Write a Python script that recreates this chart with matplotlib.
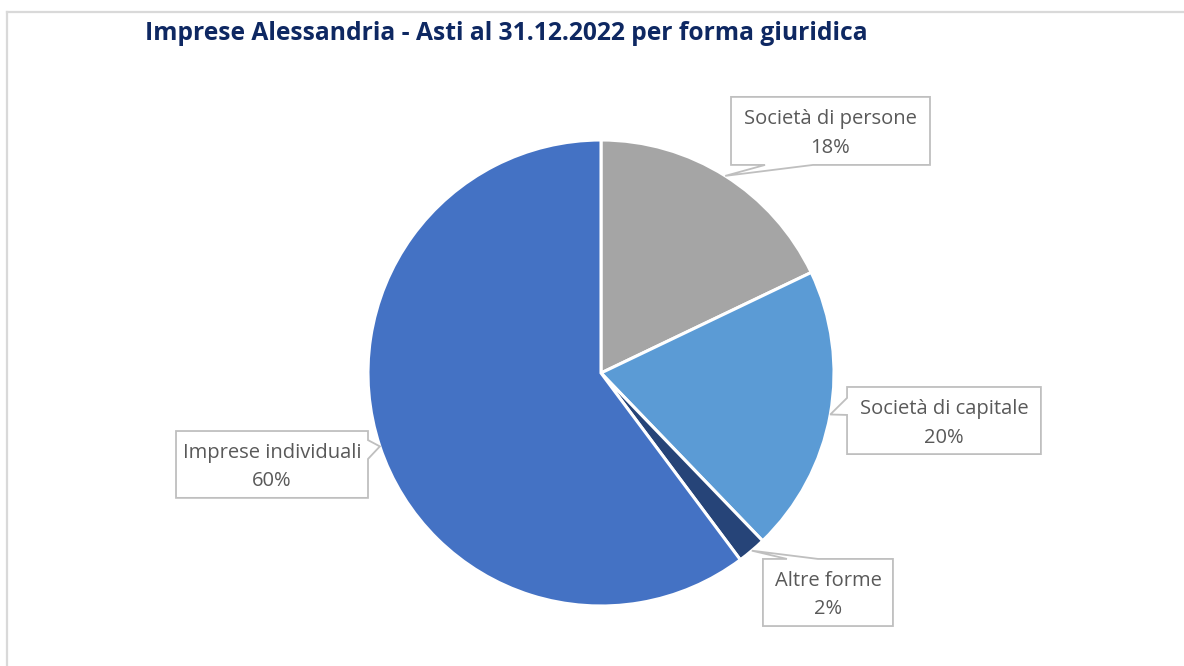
import numpy as np
import matplotlib
matplotlib.use("Agg")
import matplotlib.pyplot as plt
from matplotlib.patches import Polygon
from matplotlib.lines import Line2D

title = "Imprese Alessandria - Asti al 31.12.2022 per forma giuridica"
categories = ["Società di persone", "Società di capitale", "Altre forme", "Imprese individuali"]
values = [17.9, 19.9, 2.0, 60.2]
colors = ["#A5A5A5", "#5B9BD5", "#264478", "#4472C4"]

# label box layout (data units, pie radius = 1): x0, x1, y0, y1, edge, base0, base1
boxes = [
    (0.558, 1.412, 0.893, 1.185, "bottom", 0.704, 0.910),
    (1.056, 1.888, -0.348, -0.060, "left", -0.107, -0.180),
    (0.695, 1.253, -1.086, -0.798, "top", 0.798, 0.931),
    (-1.824, -1.000, -0.536, -0.249, "right", -0.288, -0.369),
]

W, H = 1184, 666
fig = plt.figure(figsize=(W / 100, H / 100), dpi=100)
fig.patch.set_facecolor("white")

# chart border (top and left visible)
fig.add_artist(Line2D([7 / W, 1], [1 - 12 / H, 1 - 12 / H], transform=fig.transFigure,
                      color="#D9D9D9", lw=1.6))
fig.add_artist(Line2D([7 / W, 7 / W], [0, 1 - 12 / H], transform=fig.transFigure,
                      color="#D9D9D9", lw=1.6))

fig.text(145 / W, 1 - 34 / H, title, ha="left", va="center", fontsize=17.7,
         fontweight="bold", color="#0E2862", family="Open Sans")

R = 233.0
cx, cy = 601.0, 373.0
ax = fig.add_axes([0, 0, 1, 1])
wedges, _ = ax.pie(values, colors=colors, startangle=90, counterclock=False,
                   radius=1.0, wedgeprops=dict(edgecolor="white", linewidth=2.2))
ax.set_xlim(-cx / R, (W - cx) / R)
ax.set_ylim(-(H - cy) / R, cy / R)
ax.set_aspect("auto")
ax.axis("off")

total = sum(values)
for w, cat, val, (x0, x1, y0, y1, edge, b0, b1) in zip(wedges, categories, values, boxes):
    ang = np.deg2rad((w.theta1 + w.theta2) / 2)
    tip = (np.cos(ang), np.sin(ang))
    if edge == "bottom":
        pts = [(x0, y1), (x1, y1), (x1, y0), (b1, y0), tip, (b0, y0), (x0, y0)]
    elif edge == "left":
        pts = [(x0, y1), (x1, y1), (x1, y0), (x0, y0), (x0, b1), tip, (x0, b0)]
    elif edge == "top":
        pts = [(x0, y1), (b0, y1), tip, (b1, y1), (x1, y1), (x1, y0), (x0, y0)]
    else:
        pts = [(x0, y1), (x1, y1), (x1, b0), tip, (x1, b1), (x1, y0), (x0, y0)]
    ax.add_patch(Polygon(pts, closed=True, facecolor="white", edgecolor="#BFBFBF",
                         linewidth=1.3, zorder=5))
    xc = (x0 + x1) / 2
    ym = (y0 + y1) / 2 - 0.011
    ax.text(xc, ym + 0.062, cat, ha="center", va="center", fontsize=14.5,
            color="#595959", family="Open Sans", zorder=6)
    ax.text(xc, ym - 0.062, f"{val / total * 100:.0f}%", ha="center", va="center",
            fontsize=14.5, color="#595959", family="Open Sans", zorder=6)

fig.savefig("out.png", dpi=100, facecolor="white")
